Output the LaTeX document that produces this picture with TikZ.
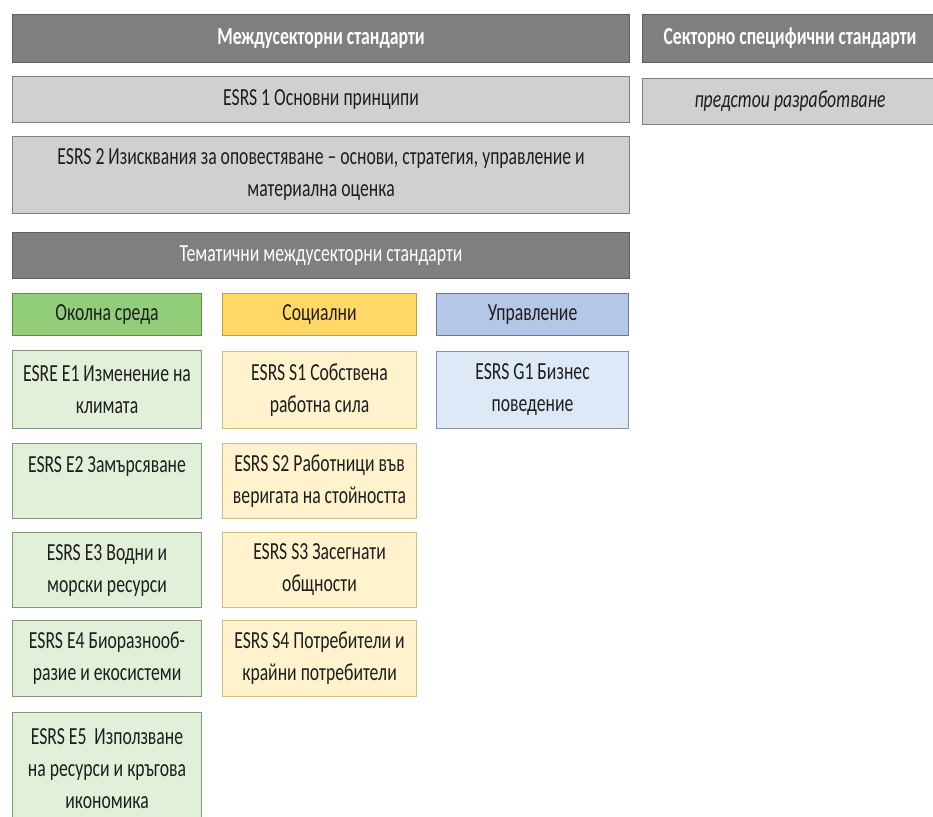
\documentclass[tikz,border=0pt]{standalone}
\usepackage{fontspec}
\setmainfont{Carlito}[FakeStretch=0.72]
\definecolor{HeadGray}{RGB}{127,127,127}
\definecolor{HeadEdge}{RGB}{96,96,96}
\definecolor{BoxGray}{RGB}{208,208,208}
\definecolor{BoxEdge}{RGB}{128,128,128}
\definecolor{EnvGreen}{RGB}{146,206,122}
\definecolor{EnvEdge}{RGB}{96,140,72}
\definecolor{EnvLight}{RGB}{226,240,217}
\definecolor{EnvLightEdge}{RGB}{130,150,120}
\definecolor{SocYellow}{RGB}{255,216,102}
\definecolor{SocEdge}{RGB}{190,160,70}
\definecolor{SocLight}{RGB}{255,242,204}
\definecolor{SocLightEdge}{RGB}{210,190,130}
\definecolor{GovBlue}{RGB}{180,199,231}
\definecolor{GovEdge}{RGB}{100,120,165}
\definecolor{GovLight}{RGB}{222,233,247}
\definecolor{GovLightEdge}{RGB}{130,145,175}
\definecolor{InkDark}{RGB}{30,30,30}
\tikzset{
  stdbox/.style 2 args={draw, line width=0.8pt, anchor=north west, align=center,
    inner sep=0pt, minimum width=#1*0.75pt, minimum height=#2*0.75pt,
    font=\fontsize{18.4pt}{24pt}\selectfont, text=InkDark},
  darkhead/.style={fill=HeadGray, draw=HeadEdge, text=white},
  greybox/.style={fill=BoxGray, draw=BoxEdge},
  envhead/.style={fill=EnvGreen, draw=EnvEdge},
  envbox/.style={fill=EnvLight, draw=EnvLightEdge},
  sochead/.style={fill=SocYellow, draw=SocEdge},
  socbox/.style={fill=SocLight, draw=SocLightEdge},
  govhead/.style={fill=GovBlue, draw=GovEdge},
  govbox/.style={fill=GovLight, draw=GovLightEdge}
}
\begin{document}
\begin{tikzpicture}[x=0.75pt, y=-0.75pt]
  \useasboundingbox (0,0) rectangle (933,817);
  \clip (0,0) rectangle (933,817);
  \fill[white] (0,0) rectangle (933,817);

  % top band: cross-cutting and sector specific
  \node[stdbox={617}{48}, darkhead] (crosscut) at (12,14) {\bfseries Междусекторни стандарти};
  \node[stdbox={295}{48}, darkhead] (sectorhead) at (642,14) {\bfseries Секторно специфични стандарти};
  \node[stdbox={617}{46}, greybox] (esrsone) at (12,76) {ESRS 1 Основни принципи};
  \node[stdbox={295}{46}, greybox] (pending) at (642,78) {\itshape предстои разработване};
  \node[stdbox={617}{77}, greybox] (esrstwo) at (12,136)
        {ESRS 2 Изисквания за оповестяване – основи, стратегия, управление и\\материална оценка};

  % thematic standards
  \node[stdbox={617}{46}, darkhead] (thematic) at (12,232) {Тематични междусекторни стандарти};

  % column heads
  \node[stdbox={189}{42}, envhead] (envcol) at (12,293) {Околна среда};
  \node[stdbox={194}{42}, sochead] (soccol) at (222,293) {Социални};
  \node[stdbox={192}{42}, govhead] (govcol) at (436,293) {Управление};

  % environment
  \node[stdbox={189}{78}, envbox] (envone) at (12,350) {ESRE E1 Изменение на\\климата};
  \node[stdbox={189}{75}, envbox] (envtwo) at (12,443) {ESRS E2 Замърсяване\\\phantom{Х}};
  \node[stdbox={189}{75}, envbox] (envthree) at (12,532) {ESRS E3 Водни и\\морски ресурси};
  \node[stdbox={189}{76}, envbox] (envfour) at (12,620) {ESRS E4 Биоразнооб-\\разие и екосистеми};
  \node[stdbox={189}{112}, envbox] (envfive) at (12,712)
        {ESRS E5\ \ Използване\\на ресурси и кръгова\\икономика};

  % social
  \node[stdbox={194}{77}, socbox] (socone) at (222,351) {ESRS S1 Собствена\\работна сила};
  \node[stdbox={194}{75}, socbox] (soctwo) at (222,443) {ESRS S2 Работници във\\веригата на стойността};
  \node[stdbox={194}{75}, socbox] (socthree) at (222,532) {ESRS S3 Засегнати\\общности};
  \node[stdbox={194}{76}, socbox] (socfour) at (222,620) {ESRS S4 Потребители и\\крайни потребители};

  % governance
  \node[stdbox={192}{77}, govbox] (govone) at (436,351) {ESRS G1 Бизнес\\поведение};
\end{tikzpicture}
\end{document}
